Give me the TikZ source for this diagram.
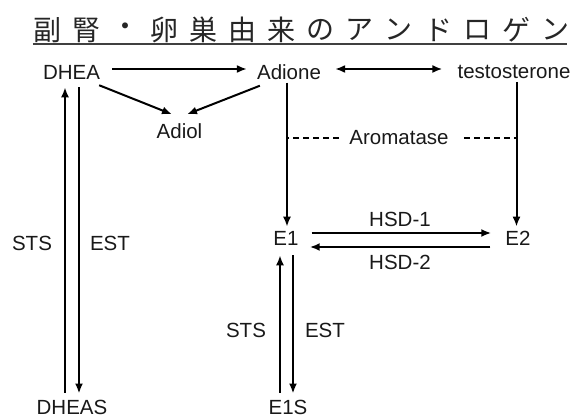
\documentclass[tikz,border=0pt]{standalone}
\usepackage{fontspec}
\setmainfont{Liberation Sans}
\newfontfamily\cjk{Noto Sans CJK JP}
\usetikzlibrary{arrows.meta,calc}
\tikzset{
  lbl/.style={inner sep=0pt, font=\fontsize{20.5}{20.5}\selectfont, text=black!90},
  arr/.style={line width=2pt, -{Latex[length=10pt,width=8pt]}},
  darr/.style={line width=2pt, {Latex[length=10pt,width=8pt]}-{Latex[length=10pt,width=8pt]}},
  pl/.style={line width=2pt},
  dsh/.style={line width=2pt, dash pattern=on 6pt off 4pt},
  tch/.style={inner sep=0pt, font=\cjk\fontsize{28}{28}\selectfont, text=black!85}
}
\begin{document}
\begin{tikzpicture}[x=1pt,y=-1pt]
\useasboundingbox (0,0) rectangle (574,417);
% title
\foreach \c [count=\i from 0] in {副,腎,・,卵,巣,由,来,の,ア,ン,ド,ロ,ゲ,ン}
  \node[tch] (t\i) at (47+39.1*\i,30) {\c};
\draw[line width=1.8pt, black!75] (t0.west |- 0,44) -- (567,44);
% nodes
\node[lbl] (DHEA) at (71.5,72) {DHEA};
\node[lbl] (Adione) at (289,72) {Adione};
\node[lbl] (testo) at (514,72) {testosterone};
\node[lbl] (Adiol) at (179.5,131) {Adiol};
\node[lbl] (Arom) at (399,138) {Aromatase};
\node[lbl] (E1) at (286,238) {E1};
\node[lbl] (E2) at (518,238) {E2};
\node[lbl] (HSD1) at (400,219) {HSD-1};
\node[lbl] (HSD2) at (400,262) {HSD-2};
\node[lbl] (DHEAS) at (72,407) {DHEAS};
\node[lbl] (E1S) at (288,407) {E1S};
\node[lbl] (STSa) at (32,243) {STS};
\node[lbl] (ESTa) at (110,243) {EST};
\node[lbl] (STSb) at (246,330) {STS};
\node[lbl] (ESTb) at (325,330) {EST};
% connectors
\draw[arr] ($(DHEA.east)+(12,-3)$) -- ($(Adione.west)+(-10,-3)$);
\draw[darr] ($(Adione.east)+(14,-3)$) -- ($(testo.west)+(-15,-3)$);
\draw[arr] ($(DHEA.south east)+(-1,6)$) -- ($(Adiol.north)+(-7.5,-9)$);
\draw[arr] ($(Adione.south west)+(3,6)$) -- ($(Adiol.north)+(7.5,-9)$);
\coordinate (aL) at ($(Adione.south)+(-2,3)$);
\coordinate (aR) at ($(testo.south)+(2.5,3)$);
\draw[arr] (aL) -- ($(aL |- E1.north)+(0,-4)$);
\draw[arr] (aR) -- ($(aR |- E2.north)+(0,-4)$);
\draw[dsh] ($(Arom.west)+(-10,0)$) -- (Arom.west -| aL);
\draw[dsh] ($(Arom.east)+(15,0)$) -- (Arom.east -| aR);
\draw[arr] ($(E1.east)+(13,-5)$) -- ($(E2.west)+(-14,-5)$);
\draw[arr] ($(E2.west)+(-15,9)$) -- ($(E1.east)+(11,9)$);
\draw[arr] ($(E1S.north)+(-8,-7)$) -- ($(E1.south)+(-6,10)$);
\draw[arr] ($(E1.south)+(7,10)$) -- ($(E1S.north)+(5,-6)$);
\draw[arr] ($(DHEAS.north)+(-7,-7)$) -- ($(DHEA.south)+(-6.5,8)$);
\draw[arr] ($(DHEA.south)+(7.5,8)$) -- ($(DHEAS.north)+(7,-6)$);
\end{tikzpicture}
\end{document}
